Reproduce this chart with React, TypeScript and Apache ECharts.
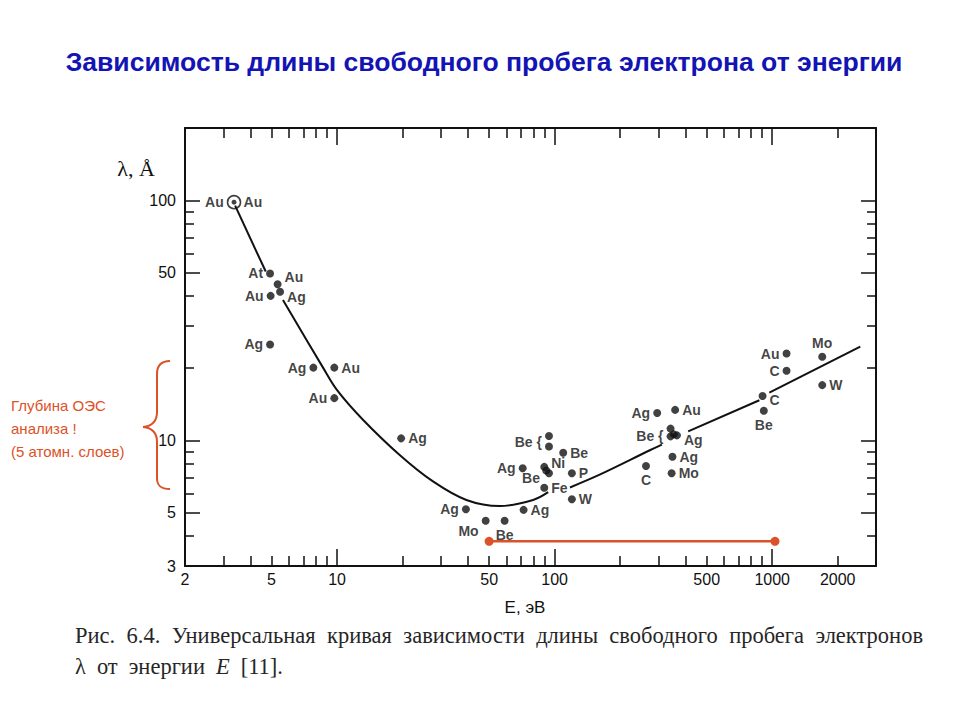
import React, { useEffect, useRef } from "react";
import * as echarts from "echarts";

// ---------- texts ----------
const titleText = "Зависимость длины свободного пробега электрона от энергии";
const captionLine1 = ["Рис.", "6.4.", "Универсальная", "кривая", "зависимости", "длины", "свободного", "пробега", "электронов"];
const captionLine2 = ["λ", "от", "энергии", "E", "[11]."];
const noteLines = ["Глубина ОЭС", "анализа !", "(5 атомн. слоев)"];
const xAxisTitle = "E, эВ";
const yAxisTitle = "λ, Å";

// ---------- axes ----------
const xRange = [2, 3000];
const yRange = [3, 200];
const xTickLabels = [2, 5, 10, 50, 100, 500, 1000, 2000];
const xMinorTicks = [3, 4, 5, 6, 7, 8, 9, 20, 30, 40, 50, 60, 70, 80, 90, 200, 300, 400, 500, 600, 700, 800, 900, 2000];
const xMajorTicks = [10, 100, 1000];
const yTickLabels = [3, 5, 10, 50, 100];
const yMinorTicks = [4, 6, 7, 8, 9, 20, 30, 40, 60, 70, 80, 90];
const yMajorTicks = [5, 10, 50, 100];

// ---------- data (E, eV ; λ, Å ; element) ----------
const pointE = [3.36, 4.92, 5.33, 5.47, 4.95, 4.92, 7.78, 9.71, 9.71, 19.7,
  94.2, 94.2, 109.5, 71.3, 89.6, 91.5, 94.2, 120, 89.6, 120, 39.1, 72, 48.2, 58.9,
  296, 358, 341, 341, 353, 365, 263, 348, 345, 903, 915, 1164, 1164, 1698, 1698];
const pointLambda = [98.2, 49.6, 44.7, 41.6, 40.0, 25.1, 20.1, 20.1, 15.0, 10.2,
  10.44, 9.43, 8.88, 7.66, 7.76, 7.5, 7.3, 7.3, 6.35, 5.69, 5.17, 5.14, 4.63, 4.63,
  13.0, 13.4, 11.2, 10.4, 10.6, 10.5, 7.83, 8.55, 7.3, 15.3, 13.3, 23.0, 19.5, 22.3, 17.0];
const pointElement = ["Au", "At", "Au", "Ag", "Au", "Ag", "Ag", "Au", "Au", "Ag",
  "", "Be {", "Be", "Ag", "Ni", "", "Be", "P", "Fe", "W", "Ag", "Ag", "Mo", "Be",
  "Ag", "Au", "", "Be {", "", "Ag", "C", "Ag", "Mo", "C", "Be", "Au", "C", "Mo", "W"];
// reference point (ring marker)
const ringE = [3.36];
const ringLambda = [98.2];
const ringElement = ["Au"];

// universal curve (segments are interrupted by labels)
const curveSeg1 = [[3.4, 95], [4.7, 50.5]];
const curveSeg2 = [[5.64, 38.4], [8.62, 20.1], [10.0, 16.2], [13.15, 12.2], [19.4, 8.7], [27.6, 6.75], [39.3, 5.65], [56.0, 5.33], [79.6, 5.65], [93.4, 6.09]];
const curveSeg3 = [[117.6, 6.37], [161, 7.2], [274, 9.1], [311, 9.6]];
const curveSeg4 = [[411, 10.9], [873, 14.7]];
const curveSeg5 = [[970, 15.8], [2540, 24.6]];

// AES depth range marker
const rangeE = [50, 1030];
const rangeLambda = [3.8, 3.8];

// label placement per point: [position, dx, dy]
const labelPlace: [string, number, number][] = [
  ["right", 4, 0], ["left", 0, 0], ["right", 0, -7], ["right", 0, 5], ["left", 0, 0], ["left", 0, 0], ["left", 0, 0], ["right", 0, 0], ["left", 0, 0], ["right", 0, 0],
  ["left", 0, 0], ["left", 0, -5], ["right", 0, 0], ["left", 0, 0], ["right", 0, -4], ["left", 0, 0], ["left", -2, 5], ["right", 0, 0], ["right", 0, 0], ["right", 0, 0], ["left", 0, 0], ["right", 0, 0], ["left", 0, 10], ["bottom", 0, 0],
  ["left", 0, 0], ["right", 0, 0], ["left", 0, 0], ["left", 0, 0], ["left", 0, 0], ["right", 0, 5], ["bottom", 0, 0], ["right", 0, 0], ["right", 0, 0], ["right", 0, 4], ["bottom", 0, 0], ["left", 0, 0], ["left", 0, 0], ["top", 0, 0], ["right", 0, 0],
];

const BRACE_D = "M170,361 C161,361 157,365 157,374 L157,412 C157,421 153,426 143,427 C153,428 157,433 157,442 L157,478 C157,486 161,489 170,489";
echarts.graphic.registerShape("brace", echarts.graphic.extendPath(BRACE_D, {}) as any);

const INK = "#111111";
const RED = "#dc5228";
const BLUE = "#1414b4";

function measure(text: string, font: string): number {
  const ctx = document.createElement("canvas").getContext("2d")!;
  ctx.font = font;
  return ctx.measureText(text).width;
}

function makeAxis(dim: "x" | "y", pos: string, ticks: number[], len: number, showLine: boolean, labels: number[] | null) {
  const range = dim === "x" ? xRange : yRange;
  return {
    type: "log",
    logBase: 10,
    min: range[0],
    max: range[1],
    position: pos,
    gridIndex: 0,
    splitLine: { show: false },
    axisLine: { show: showLine, onZero: false, lineStyle: { color: INK, width: 2 } },
    axisTick: { show: true, inside: true, length: len, customValues: ticks, lineStyle: { color: INK, width: 1.5 } },
    axisLabel: labels
      ? {
          show: true,
          customValues: labels,
          formatter: (v: number) => String(Math.round(v)),
          fontFamily: "Liberation Sans",
          fontSize: 16,
          color: INK,
          margin: dim === "x" ? 5 : 9,
          hideOverlap: false,
          showMinLabel: true,
          showMaxLabel: true,
        }
      : { show: false },
    silent: true,
  };
}

export default function App() {
  const ref = useRef<HTMLDivElement>(null);
  useEffect(() => {
    document.body.style.margin = "0";
    const el = ref.current!;
    const chart = echarts.init(el, null, { renderer: "svg" });

    // title sized to reference width
    const titleFont = "Liberation Sans";
    const tw = measure(titleText, `bold 21px "${titleFont}"`);
    const titleSize = Math.min(30, Math.max(18, (21 * 837) / tw));

    // caption justified words
    const capFamily = "Liberation Serif";
    const capSize = 22.5;
    const capFont = `${capSize}px "${capFamily}"`;
    const w1 = captionLine1.map((w) => measure(w, capFont));
    const sum1 = w1.reduce((a, b) => a + b, 0);
    const gap = (923 - 75 - sum1) / (captionLine1.length - 1);
    const captionEls: any[] = [];
    let cx = 75;
    captionLine1.forEach((w, i) => {
      captionEls.push({ type: "text", x: cx, y: 635, style: { text: w, fontFamily: capFamily, fontSize: capSize, fill: "#262626", textVerticalAlign: "middle", verticalAlign: "middle" } });
      cx += w1[i] + gap;
    });
    cx = 75;
    const gap2 = Math.min(gap, 11);
    captionLine2.forEach((w) => {
      const italic = w === "E";
      const f = `${italic ? "italic " : ""}${capSize}px "${capFamily}"`;
      captionEls.push({ type: "text", x: cx, y: 666, style: { text: w, fontFamily: capFamily, fontStyle: italic ? "italic" : "normal", fontSize: capSize, fill: "#262626", textVerticalAlign: "middle", verticalAlign: "middle" } });
      cx += measure(w, f) + gap2;
    });

    const pointData = pointE.map((e, i) => {
      const [pos, dx, dy] = labelPlace[i];
      return {
        value: [e, pointLambda[i]],
        name: pointElement[i],
        symbolSize: i === 0 ? 5 : 8,
        label: {
          show: pointElement[i] !== "",
          formatter: pointElement[i],
          position: pos,
          offset: [dx, dy],
          distance: 3,
        },
      };
    });

    const curveStyle = { type: "line", xAxisIndex: 0, yAxisIndex: 0, smooth: 0.35, symbol: "none", silent: true, lineStyle: { color: INK, width: 2 }, z: 2 };
    const labelFont = { fontFamily: "Liberation Sans", fontWeight: "bold", fontSize: 14, color: INK };

    const option: any = {
      animation: false,
      backgroundColor: "#ffffff",
      grid: { left: 185, top: 128, width: 691, height: 438, containLabel: false },
      xAxis: [
        makeAxis("x", "bottom", xMinorTicks, 10, true, xTickLabels),
        makeAxis("x", "bottom", xMajorTicks, 17, false, null),
        makeAxis("x", "top", xMinorTicks, 10, true, null),
        makeAxis("x", "top", xMajorTicks, 17, false, null),
      ],
      yAxis: [
        makeAxis("y", "left", yMinorTicks, 9, true, yTickLabels),
        makeAxis("y", "left", yMajorTicks, 15, false, null),
        makeAxis("y", "right", yMinorTicks, 9, true, null),
        makeAxis("y", "right", yMajorTicks, 15, false, null),
      ],
      series: [
        { ...curveStyle, data: curveSeg1 },
        { ...curveStyle, data: curveSeg2 },
        { ...curveStyle, data: curveSeg3 },
        { ...curveStyle, data: curveSeg4 },
        { ...curveStyle, data: curveSeg5 },
        {
          type: "line",
          xAxisIndex: 0,
          yAxisIndex: 0,
          data: rangeE.map((e, i) => [e, rangeLambda[i]]),
          symbol: "circle",
          symbolSize: 9,
          itemStyle: { color: RED },
          lineStyle: { color: RED, width: 2.5 },
          silent: true,
          z: 3,
        },
        {
          type: "scatter",
          xAxisIndex: 0,
          yAxisIndex: 0,
          data: ringE.map((e, i) => ({ value: [e, ringLambda[i]], name: ringElement[i] })),
          symbol: "circle",
          symbolSize: 13,
          itemStyle: { color: "rgba(0,0,0,0)", borderColor: INK, borderWidth: 1.6 },
          label: { show: true, position: "left", distance: 3, formatter: "{b}", ...labelFont },
          silent: true,
          z: 4,
        },
        {
          type: "scatter",
          xAxisIndex: 0,
          yAxisIndex: 0,
          data: pointData,
          symbol: "circle",
          itemStyle: { color: INK },
          label: labelFont,
          silent: true,
          z: 5,
        },
      ],
      graphic: [
        {
          type: "text",
          x: 484,
          y: 62,
          style: { text: titleText, fontFamily: titleFont, fontWeight: "bold", fontSize: titleSize, fill: BLUE, textAlign: "center", textVerticalAlign: "middle", align: "center", verticalAlign: "middle" },
        },
        {
          type: "text",
          x: 136,
          y: 168,
          style: { text: yAxisTitle, fontFamily: "Liberation Serif", fontSize: 22, fill: INK, textAlign: "center", textVerticalAlign: "middle", align: "center", verticalAlign: "middle" },
        },
        {
          type: "text",
          x: 525,
          y: 607,
          style: { text: xAxisTitle, fontFamily: "Liberation Sans", fontSize: 17, fill: INK, textAlign: "center", textVerticalAlign: "middle", align: "center", verticalAlign: "middle" },
        },
        ...noteLines.map((t, i) => ({
          type: "text",
          x: 11,
          y: 405 + i * 23,
          style: { text: t, fontFamily: "Liberation Sans", fontSize: 15, fill: RED, textVerticalAlign: "middle", verticalAlign: "middle" },
        })),
        { type: "brace", x: 0, y: 0, style: { fill: "none", stroke: RED, lineWidth: 2 } },
        ...captionEls,
      ],
    };
    chart.setOption(option);
    return () => chart.dispose();
  }, []);
  return <div ref={ref} style={{ width: 960, height: 720 }} />;
}
